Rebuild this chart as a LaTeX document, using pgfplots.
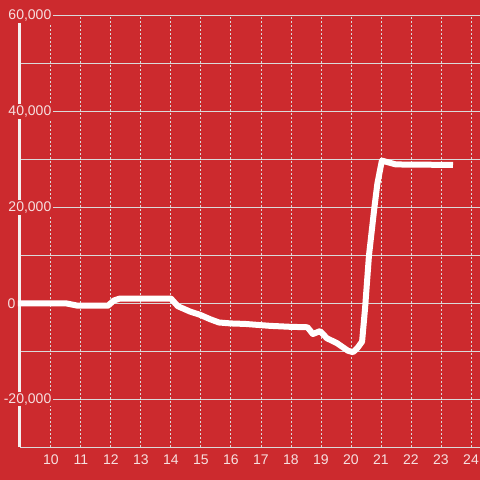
\documentclass[border=0pt]{standalone}
\usepackage{pgfplots}
\pgfplotsset{compat=1.18}
\usepackage{fontspec}
\setmainfont{Liberation Sans}
\definecolor{bgred}{RGB}{204,42,46}
\definecolor{gridc}{RGB}{218,218,218}
\definecolor{labc}{RGB}{246,224,224}
\begin{document}
\begin{tikzpicture}
\useasboundingbox (0,0) rectangle (480bp,480bp);
\fill[bgred] (0,0) rectangle (480bp,480bp);
\begin{axis}[
  at={(20bp,33bp)}, anchor=south west,
  scale only axis, width=460bp, height=431bp,
  xmin=8.97, xmax=24.3, ymin=-30000, ymax=60000,
  clip=false, scaled ticks=false,
  axis y line*=left, axis x line*=bottom,
  y axis line style={draw={rgb,255:red,245;green,240;blue,240}, line width=3bp},
  x axis line style={draw=none},
  major tick length=0pt, minor tick length=0pt,
  xtick={10,11,...,24},
  xticklabels={10,11,12,13,14,15,16,17,18,19,20,21,22,23,24},
  ytick={-20000,20000,40000,60000},
  yticklabels={{-20,000},{20,000},{40,000},{60,000}},
  minor ytick={-30000,-10000,10000,30000,50000},
  xmajorgrids, ymajorgrids, yminorgrids,
  x grid style={draw=gridc, line width=0.9bp, dash pattern=on 2bp off 2bp},
  y grid style={draw=gridc, line width=1bp},
  extra y ticks={0},
  extra y tick labels={0},
  extra y tick style={grid=major, major grid style={draw=white, line width=3bp, solid},
     yticklabel style={xshift=-36bp, fill=none}},
  ticklabel style={font=\fontsize{14bp}{16bp}\selectfont, text=labc},
  xticklabel style={inner sep=0pt, yshift=-8bp},
  yticklabel style={anchor=east, inner sep=1.5bp, xshift=33bp, fill=bgred},
]
\addplot[white, line width=6bp, line join=round] coordinates {
(8.9,0) (10.5,0) (10.9,-500) (11.9,-500) (12.1,600) (12.3,1000) (14.0,1000)
(14.23,-600) (14.63,-1700) (14.97,-2400) (15.3,-3300) (15.6,-4000) (16.0,-4200)
(16.47,-4300) (17.3,-4700) (17.97,-4900) (18.55,-5000) (18.73,-6400) (18.97,-5800)
(19.2,-7300) (19.53,-8300) (19.9,-9900) (20.07,-10200) (20.23,-9200) (20.37,-8000)
(20.47,-1000) (20.6,10000) (20.78,20000) (20.88,25000) (21.03,29800) (21.5,29000)
(23.4,28900)
};
\end{axis}
\end{tikzpicture}
\end{document}
